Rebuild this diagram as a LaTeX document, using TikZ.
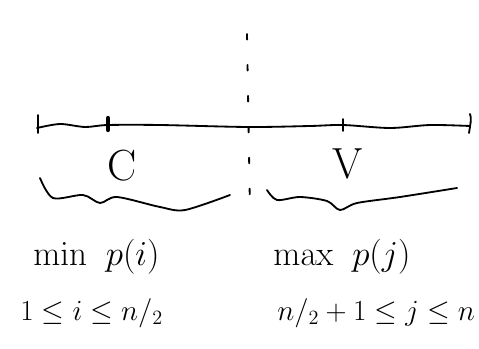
\documentclass[tikz,border=0pt]{standalone}
\usetikzlibrary{positioning}
\begin{document}
\begin{tikzpicture}[
  x=0.025cm, y=-0.025cm,
  pen/.style={line width=1.3pt, line cap=round, line join=round},
  tick/.style={pen},
  lbl/.style={font=\fontsize{31}{36}\selectfont, inner sep=0pt},
  rng/.style={font=\fontsize{20}{24}\selectfont, inner sep=0pt}
]
\useasboundingbox (0,0) rectangle (479,348);
% number line
\coordinate (left) at (37,128);
\coordinate (right) at (470,126);
\coordinate (ci) at (108,125);
\coordinate (vj) at (343,125);
\coordinate (top) at (247,34);
\coordinate (bot) at (250,212);
\draw[pen] plot[smooth] coordinates {(left) (60,124) (85,127) (ci) (160,125) (248,127) (310,126) (vj) (390,128) (430,125) (right)};
\draw[tick] (38,115) -- (38,133);
\draw[line width=3pt, line cap=round] (108,118) -- (108,130);
\draw[tick] (343,119) -- (343,131);
\draw[tick] (470,114) .. controls (472,118) and (470,126) .. (469,133);
% split
\draw[pen, dash pattern=on 4pt off 18pt] (top) -- (bot);
% labels
\node[lbl] (c) at (122,166) {C};
\node[lbl] (v) at (348,164) {V};
% braces
\draw[pen] plot[smooth] coordinates {(40,178) (53,198) (83,195) (100,203) (117,197) (160,207) (185,210) (230,195)};
\draw[pen] plot[smooth] coordinates {(267,190) (277,200) (300,197) (327,201) (340,210) (357,203) (400,197) (457,188)};
% texts
\node[lbl, anchor=base west] (minlbl) at (33,265) {$\min\ p(i)$};
\node[lbl, anchor=base west] (maxlbl) at (273,265) {$\max\ p(j)$};
\node[rng, anchor=base west] (minrange) at (20,320) {$1 \leq i \leq n/_2$};
\node[rng, anchor=base west] (maxrange) at (277,320) {$n/_2 + 1 \leq j \leq n$};
\end{tikzpicture}
\end{document}
